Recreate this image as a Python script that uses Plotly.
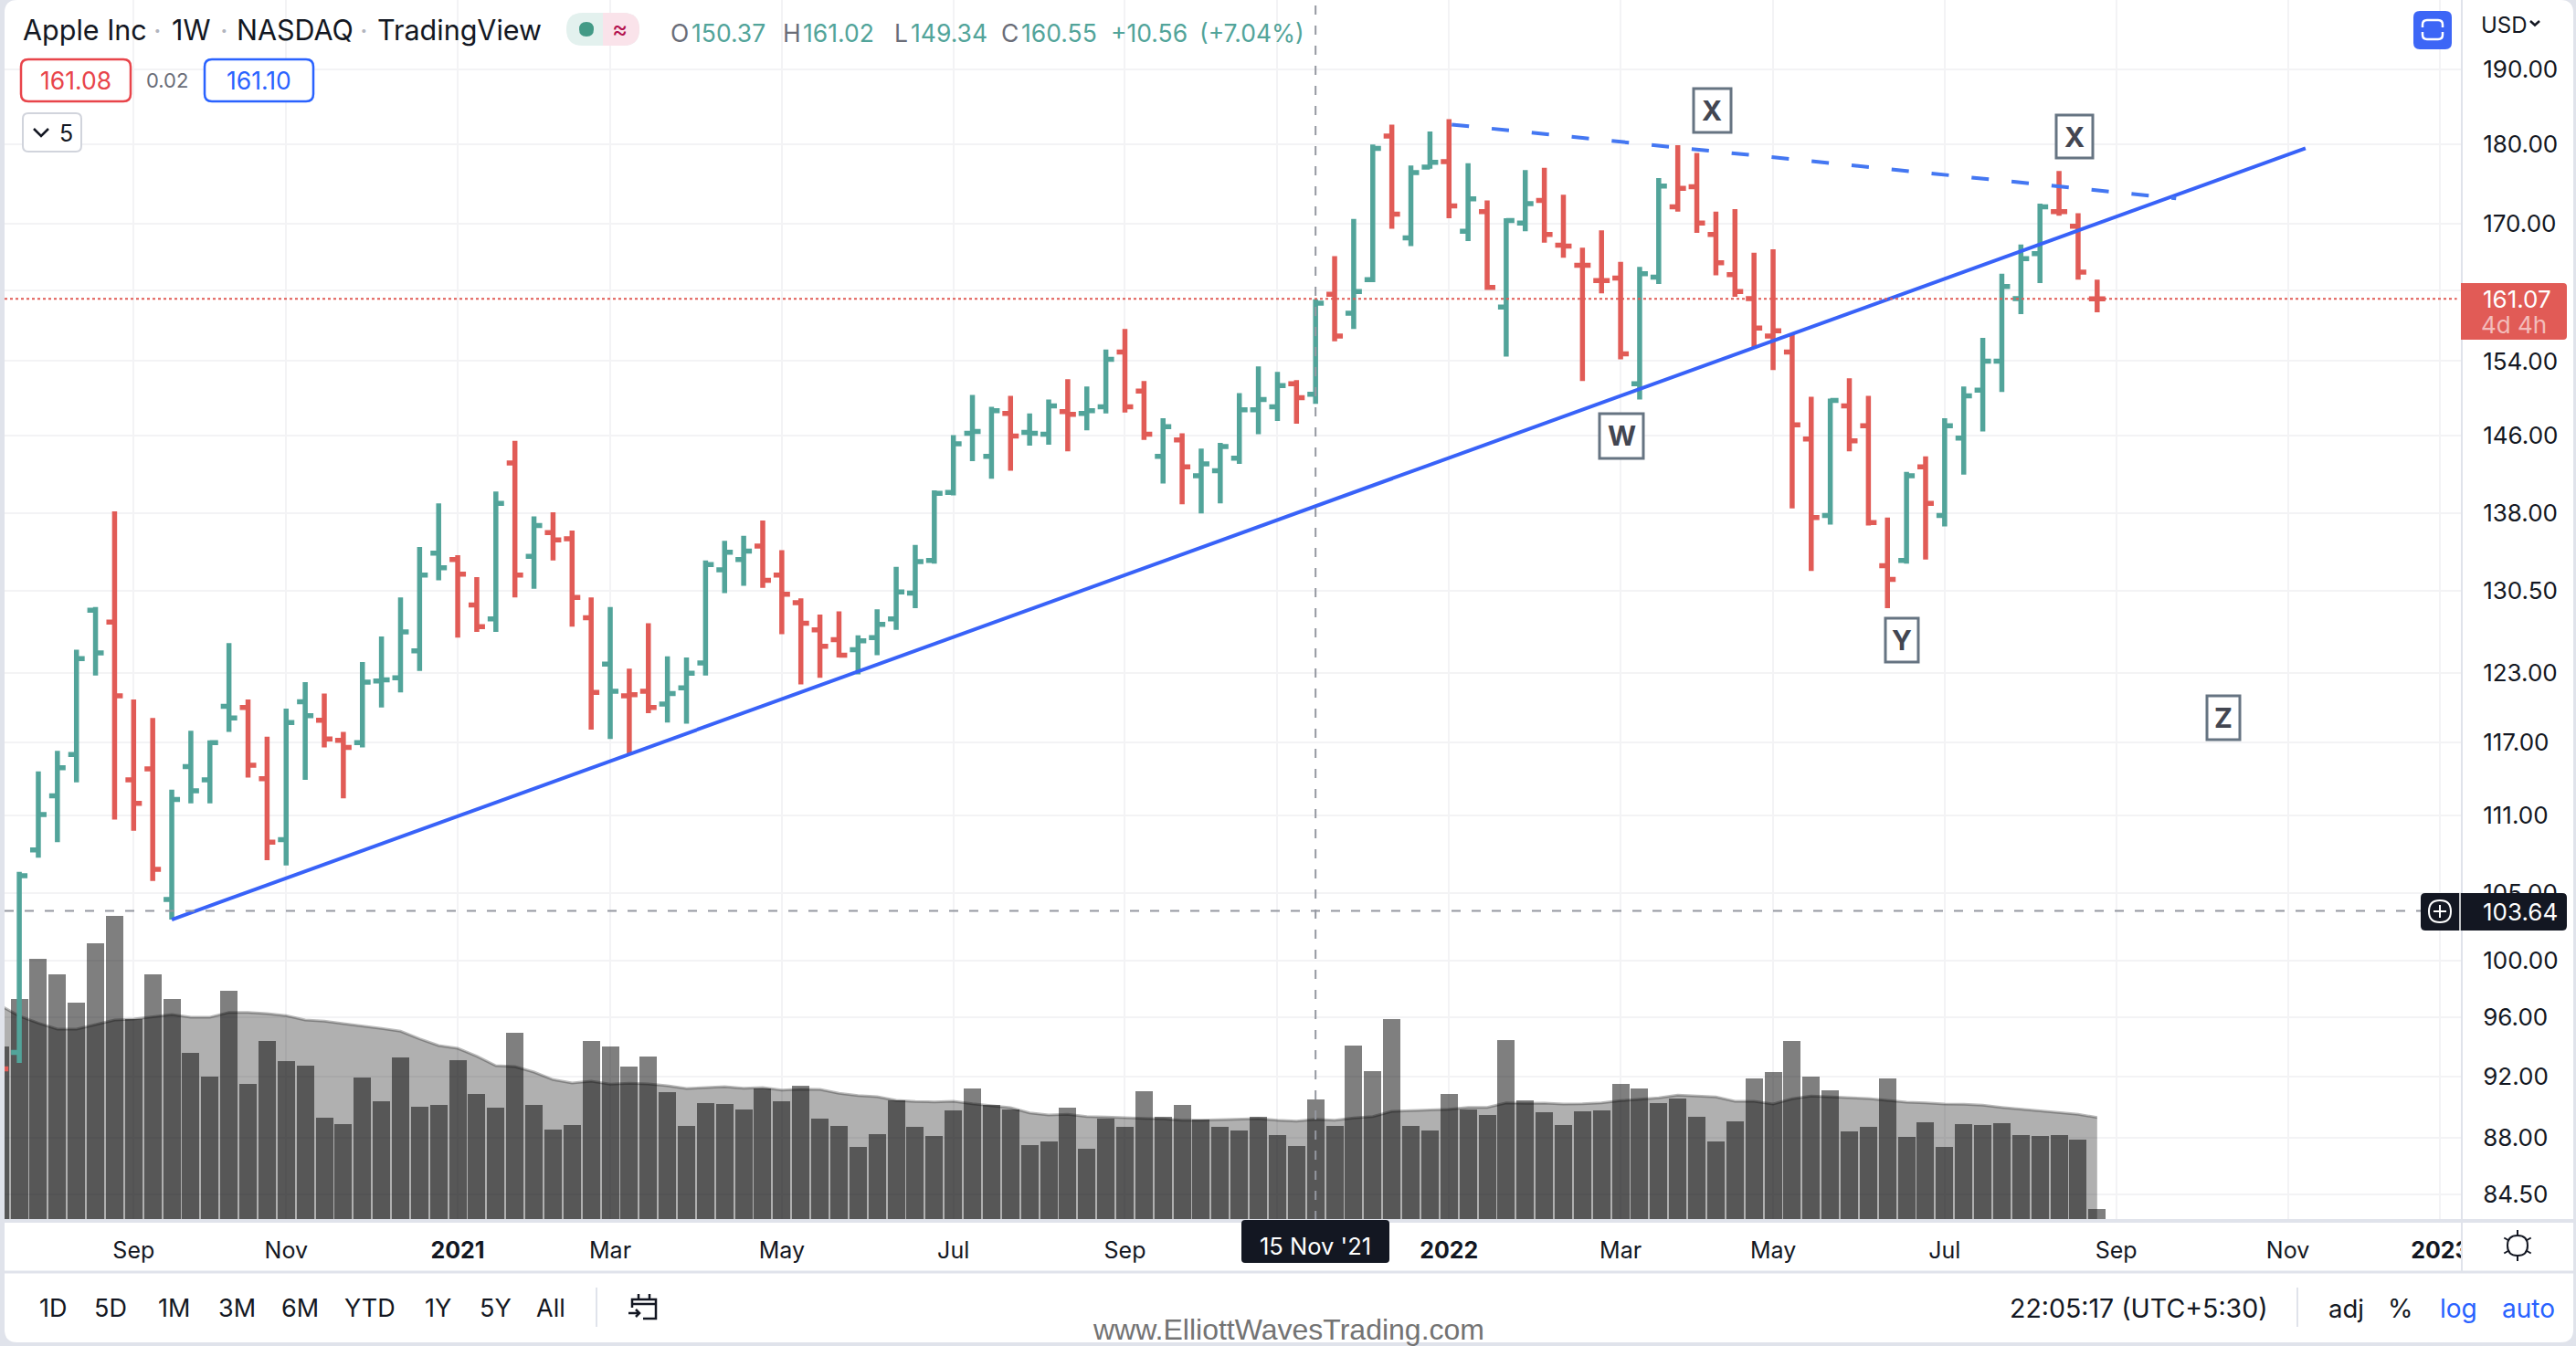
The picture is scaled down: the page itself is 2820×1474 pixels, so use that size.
import pandas as pd
import math
import plotly.graph_objects as go

# ---------- data ----------
dates = pd.date_range("2020-07-20", periods=111, freq="7D")

open_ = [95.5, 93.6, 108.3, 112.6, 116.0, 128.7, 127.6, 113.9, 114.8, 104.5,
         115.0, 113.9, 120.1, 120.0, 114.0, 109.1, 120.5, 118.9, 117.2, 117.0,
         122.3, 122.6, 125.0, 134.1, 133.5, 129.2, 127.9, 143.1, 133.8, 136.1,
         135.5, 128.0, 123.8, 121.0, 121.4, 120.3, 121.7, 123.9, 132.5, 133.5,
         134.8, 132.0, 129.4, 126.9, 126.0, 125.1, 126.2, 127.9, 130.3, 133.4,
         140.1, 146.2, 143.8, 148.3, 146.3, 146.1, 148.5, 148.3, 149.0, 155.0,
         150.7, 143.8, 145.5, 141.8, 142.3, 143.6, 148.7, 149.0, 151.5, 150.37,
         161.6, 159.4, 163.3, 181.1, 168.3, 177.1, 177.8, 169.1, 171.5, 160.1,
         170.1, 172.9, 167.4, 165.0, 163.2, 163.5, 151.5, 163.6, 172.1, 174.6,
         168.7, 163.9, 161.1, 156.8, 155.0, 145.6, 137.8, 149.1, 147.0, 132.9,
         133.4, 142.7, 137.8, 145.7, 150.8, 154.0, 161.1, 166.4, 171.5, 169.7, 161.07]
high = [97.0, 106.6, 114.6, 116.3, 125.1, 129.0, 138.2, 120.7, 119.1, 113.1,
        118.0, 117.2, 125.7, 120.7, 117.5, 119.9, 122.2, 121.2, 117.9, 124.0,
        126.3, 129.9, 134.7, 139.0, 133.9, 131.8, 140.2, 145.4, 137.7, 138.1,
        136.3, 129.9, 129.0, 123.4, 127.5, 124.5, 124.4, 133.4, 135.3, 135.8,
        137.3, 134.4, 129.8, 128.3, 128.6, 126.4, 128.8, 132.8, 134.9, 140.3,
        146.0, 150.3, 149.0, 150.2, 148.3, 149.8, 152.0, 151.2, 155.3, 157.6,
        151.8, 147.8, 146.2, 144.6, 145.2, 150.5, 153.4, 152.8, 151.9, 161.02,
        166.1, 170.6, 180.0, 182.6, 177.3, 181.7, 183.3, 177.6, 172.9, 170.7,
        176.7, 177.0, 173.6, 167.1, 169.2, 165.4, 164.8, 175.7, 179.9, 178.9,
        171.5, 171.8, 166.5, 166.9, 157.0, 150.1, 149.9, 152.1, 150.2, 137.6,
        142.2, 143.8, 147.8, 151.2, 156.6, 164.0, 167.5, 172.5, 176.6, 171.3, 163.3]
low = [92.0, 92.9, 107.7, 108.9, 113.7, 122.8, 110.7, 109.8, 105.9, 103.0,
       112.0, 112.0, 117.9, 114.1, 107.5, 107.1, 113.9, 116.6, 112.4, 116.6,
       120.0, 121.3, 123.2, 131.5, 126.2, 126.7, 126.7, 129.9, 130.7, 133.4,
       127.2, 118.1, 117.3, 116.0, 119.5, 118.7, 118.6, 122.8, 130.3, 131.0,
       130.8, 126.5, 122.0, 122.6, 124.4, 122.9, 124.6, 126.9, 128.9, 133.1,
       139.8, 143.3, 141.5, 142.3, 144.9, 145.0, 144.3, 146.5, 148.3, 148.4,
       145.5, 141.0, 138.9, 138.0, 139.0, 143.0, 146.1, 147.5, 147.2, 149.34,
       156.2, 157.6, 163.0, 169.4, 167.3, 176.9, 170.7, 167.9, 162.1, 154.5,
       169.1, 167.7, 165.9, 151.8, 161.7, 154.2, 149.8, 162.8, 171.5, 168.9,
       163.8, 161.3, 155.4, 153.0, 138.5, 132.4, 136.9, 144.3, 136.8, 128.9,
       133.1, 133.5, 136.7, 141.9, 146.4, 150.6, 159.3, 162.9, 171.0, 163.3, 159.5]
close = [92.5, 106.3, 111.1, 114.9, 124.3, 124.8, 121.0, 112.0, 106.8, 112.3,
         113.0, 117.0, 119.1, 115.1, 108.9, 118.7, 119.3, 117.3, 116.6, 122.2,
         122.4, 126.7, 132.0, 132.7, 132.1, 127.2, 139.0, 132.0, 136.8, 135.4,
         129.9, 121.3, 121.4, 121.1, 120.0, 121.2, 123.0, 133.0, 134.2, 134.3,
         131.5, 130.2, 127.5, 125.4, 124.6, 125.9, 127.4, 130.4, 133.3, 140.0,
         145.1, 146.4, 148.6, 145.9, 146.2, 149.1, 148.2, 148.6, 154.2, 149.0,
         146.1, 146.9, 142.7, 143.0, 144.8, 148.7, 149.8, 151.3, 150.0, 160.55,
         156.8, 161.9, 179.5, 171.2, 176.4, 177.7, 172.2, 173.1, 162.4, 170.4,
         172.5, 168.7, 167.3, 165.0, 163.2, 154.8, 164.0, 174.7, 174.4, 170.1,
         165.3, 161.9, 157.7, 157.4, 147.1, 137.6, 149.7, 145.4, 137.1, 131.6,
         141.8, 139.0, 147.0, 150.2, 154.0, 162.5, 165.8, 172.1, 171.5, 164.2, 161.07]
volume = [570, 726, 858, 807, 714, 909, 999, 660, 807, 726,
          549, 471, 753, 447, 588, 522, 507, 336, 315, 468,
          390, 534, 372, 378, 525, 414, 369, 615, 378, 297,
          312, 588, 570, 504, 537, 420, 309, 384, 381, 363,
          432, 390, 441, 333, 309, 240, 282, 393, 306, 276,
          360, 432, 378, 363, 246, 258, 369, 234, 333, 306,
          423, 339, 378, 330, 306, 294, 339, 279, 243, 396,
          309, 573, 489, 660, 309, 294, 414, 363, 345, 591,
          393, 354, 312, 357, 360, 447, 432, 384, 399, 339,
          258, 324, 465, 486, 588, 471, 426, 291, 306, 465,
          273, 321, 240, 315, 312, 318, 279, 276, 279, 264, 36]
volume_ma = [705, 670, 647, 627, 627, 643, 657, 660, 668, 675,
             666, 666, 682, 682, 678, 671, 657, 653, 645, 638,
             629, 620, 595, 573, 564, 538, 507, 504, 486, 461,
             450, 456, 446, 449, 447, 441, 432, 435, 438, 433,
             435, 427, 430, 429, 416, 409, 405, 393, 389, 388,
             390, 382, 375, 369, 352, 345, 347, 340, 338, 335,
             334, 332, 328, 328, 329, 331, 333, 328, 325, 331,
             328, 335, 340, 357, 360, 361, 364, 370, 370, 385,
             383, 384, 381, 382, 385, 392, 397, 401, 410, 408,
             404, 390, 390, 381, 398, 407, 405, 401, 399, 393,
             387, 385, 381, 380, 377, 370, 364, 357, 352, 347, 337]

price_ticks = [190, 180, 170, 162, 154, 146, 138, 130.5, 123, 117, 111, 105, 100, 96, 92, 88, 84.5]
hidden_price_ticks = [162]
date_ticks = ["2020-09-07", "2020-11-02", "2021-01-04", "2021-03-01", "2021-05-03", "2021-07-05",
              "2021-09-06", "2021-11-01", "2022-01-03", "2022-03-07", "2022-05-02", "2022-07-04",
              "2022-09-05", "2022-11-07", "2023-01-02"]
date_labels = ["Sep", "Nov", "<b>2021</b>", "Mar", "May", "Jul", "Sep", "", "<b>2022</b>",
               "Mar", "May", "Jul", "Sep", "Nov", "<b>2023</b>"]

trend_dates = ["2020-09-21", "2022-11-13 12:00"]
trend_prices = [103.0, 179.5]
resist_dates = ["2022-01-04", "2022-09-27"]
resist_prices = [182.6, 173.15]
last_price = 161.07
cross_price = 103.64
cross_date = "2021-11-15"

# ---------- colours ----------
GREEN, RED, BLUE = "#52a49a", "#e15b56", "#3862f8"
INK, MUTED, GRID, EDGE = "#131722", "#6a6d78", "#f3f3f5", "#e0e3eb"
FONT = "Inter"

# ---------- layout geometry (screen helpers for chrome only) ----------
W, H = 2820, 1474
L, R, T, B = 5, 2695, 0, 1336
def px(x): return (x - L) / (R - L)
def py(y): return 1 - (y - T) / (B - T)
def path(cmds):
    out = []
    for c in cmds:
        if c[0] == "Z":
            out.append("Z")
        else:
            pts = c[1:]
            xy = [f"{px(pts[i]):.6f},{py(pts[i+1]):.6f}" for i in range(0, len(pts), 2)]
            out.append(c[0] + " " + " ".join(xy))
    return " ".join(out)
def rr_cmds(x0, y0, x1, y1, r):
    return [("M", x0 + r, y0), ("L", x1 - r, y0), ("Q", x1, y0, x1, y0 + r), ("L", x1, y1 - r),
            ("Q", x1, y1, x1 - r, y1), ("L", x0 + r, y1), ("Q", x0, y1, x0, y1 - r),
            ("L", x0, y0 + r), ("Q", x0, y0, x0 + r, y0), ("Z",)]

shapes, annos = [], []
def add_path(cmds, color=None, lw=0, fill=None, layer="above"):
    shapes.append(dict(type="path", xref="paper", yref="paper", path=path(cmds), layer=layer,
                       line=dict(color=color or "rgba(0,0,0,0)", width=lw),
                       fillcolor=fill or "rgba(0,0,0,0)"))
def rect(x0, y0, x1, y1, r=0, color=None, lw=0, fill=None, layer="above"):
    add_path(rr_cmds(x0, y0, x1, y1, r) if r else
             [("M", x0, y0), ("L", x1, y0), ("L", x1, y1), ("L", x0, y1), ("Z",)], color, lw, fill, layer)
def line(pts, color, lw):
    add_path([("M", *pts[0])] + [("L", *p) for p in pts[1:]], color, lw)
def text(x, y, s, size=24, color=INK, anchor="left", family=FONT):
    annos.append(dict(xref="paper", yref="paper", x=px(x), y=py(y), text=s, showarrow=False,
                      xanchor=anchor, yanchor="middle", borderpad=0,
                      font=dict(family=family, size=size, color=color)))

# ---------- traces ----------
up = [False] + [close[i] >= close[i - 1] for i in range(1, len(close))]
fig = go.Figure()
fig.add_trace(go.Scatter(x=dates, y=volume_ma, yaxis="y", mode="lines", fill="tozeroy",
                         fillcolor="rgba(0,0,0,0.31)", line=dict(color="rgba(0,0,0,0.27)", width=3),
                         hoverinfo="skip", showlegend=False))
fig.add_trace(go.Bar(x=dates, y=volume, yaxis="y", width=6.37 * 86400000,
                     marker=dict(color="rgba(0,0,0,0.5)", line=dict(width=0)),
                     hoverinfo="skip", showlegend=False))
for flag, col in ((True, GREEN), (False, RED)):
    idx = [i for i, u in enumerate(up) if u == flag]
    fig.add_trace(go.Ohlc(x=[dates[i] for i in idx], open=[open_[i] for i in idx],
                          high=[high[i] for i in idx], low=[low[i] for i in idx],
                          close=[close[i] for i in idx], yaxis="y2", tickwidth=0.43,
                          increasing=dict(line=dict(color=col, width=5.5)),
                          decreasing=dict(line=dict(color=col, width=5.5)),
                          hoverinfo="skip", showlegend=False))
fig.add_trace(go.Scatter(x=trend_dates, y=trend_prices, yaxis="y2", mode="lines",
                         line=dict(color=BLUE, width=4), hoverinfo="skip", showlegend=False))
fig.add_trace(go.Scatter(x=resist_dates, y=resist_prices, yaxis="y2", mode="lines",
                         line=dict(color="#4477f2", width=4, dash="19px,25px"),
                         hoverinfo="skip", showlegend=False))

# ---------- page chrome ----------
rect(5, 0, 2817, 1470, 14, fill="#ffffff", layer="below")

# last price + crosshair (log axis: shape positions are given as prices)
shapes.append(dict(type="line", xref="paper", yref="y2", x0=0, x1=0.998, y0=last_price, y1=last_price,
                   line=dict(color=RED, width=2, dash="3px,3px"), layer="above"))
shapes.append(dict(type="line", xref="paper", yref="y2", x0=0, x1=1, y0=cross_price, y1=cross_price,
                   line=dict(color="#9598a1", width=2, dash="10px,12px"), layer="above"))
shapes.append(dict(type="line", xref="x", yref="paper", x0=cross_date, x1=cross_date, y0=0, y1=1,
                   line=dict(color="#9598a1", width=2, dash="10px,12px"), layer="above"))

# axis frames
rect(2696, 1338, 2817, 1392, fill="#ffffff")
line([(5, 1337), (2817, 1337)], EDGE, 4)
line([(5, 1393), (2817, 1393)], EDGE, 3)
line([(2695, 0), (2695, 1393)], EDGE, 2)

# header
text(24, 33, "Apple Inc", 30.5)
text(187, 33, "1W", 30.5)
text(258, 33, "NASDAQ", 30.5)
text(412, 33, "TradingView", 30.5)
for cx in (172, 245, 398):
    text(cx, 33, "·", 30, "#b2b5be", "center")
rect(620, 14, 700, 50, 18, fill="#e3f1ee")
add_path([("M", 660, 14), ("L", 682, 14), ("Q", 700, 14, 700, 32), ("Q", 700, 50, 682, 50), ("L", 660, 50), ("Z",)], fill="#fae3ea")
add_path([("M", 642, 24), ("Q", 650, 24, 650, 32), ("Q", 650, 40, 642, 40), ("Q", 634, 40, 634, 32), ("Q", 634, 24, 642, 24), ("Z",)], fill="#439a86")
text(678, 32, "≈", 26, "#b3124f", "center")

for xx, s, col in ((733, "O", MUTED), (756, "150.37", GREEN), (856, "H", MUTED), (878, "161.02", GREEN),
                   (978, "L", MUTED), (996, "149.34", GREEN), (1095, "C", MUTED), (1117, "160.55", GREEN),
                   (1215, "+10.56", GREEN), (1312, "(+7.04%)", GREEN)):
    text(xx, 36, s, 26.5, col)

rect(23, 65, 143, 111, 8, "#e8444a", 2.5, "#ffffff")
text(83, 88, "161.08", 26.5, "#e8444a", "center")
text(183, 88, "0.02", 22, MUTED, "center")
rect(224, 65, 343, 111, 8, "#2962ff", 2.5, "#ffffff")
text(283.5, 88, "161.10", 26.5, "#2962ff", "center")
rect(25, 124, 89, 166, 6, "#d1d4dc", 2, "#ffffff")
line([(37, 141), (45, 149), (53, 141)], INK, 2.5)
text(72, 146, "5", 25, INK, "center")

# corner widgets
rect(2642, 12, 2684, 54, 7, fill="#3d66f6")
add_path([("M", 2652, 30), ("L", 2652, 27), ("Q", 2652, 22, 2657, 22), ("L", 2669, 22), ("Q", 2674, 22, 2674, 27), ("L", 2674, 30)], "#ffffff", 2.5)
add_path([("M", 2652, 35), ("L", 2652, 38), ("Q", 2652, 43, 2657, 43), ("L", 2669, 43), ("Q", 2674, 43, 2674, 38), ("L", 2674, 35)], "#ffffff", 2.5)
text(2715, 27, "USD", 24)
line([(2770, 23), (2775, 27.5), (2780, 23)], INK, 2.5)

# price labels
add_path([("M", 2694, 310), ("L", 2806, 310), ("Q", 2810, 310, 2810, 314), ("L", 2810, 368), ("Q", 2810, 372, 2806, 372), ("L", 2694, 372), ("Z",)], fill=RED)
text(2717, 327, "161.07", 26, "#ffffff")
text(2715, 355, "4d 4h", 26, "#f3bdbb")
rect(2650, 978, 2810, 1019, 5, fill=INK)
line([(2693, 978), (2693, 1019)], "#ffffff", 1.5)
add_path([("M", 2671, 986), ("Q", 2683, 986, 2683, 998), ("Q", 2683, 1010, 2671, 1010), ("Q", 2659, 1010, 2659, 998), ("Q", 2659, 986, 2671, 986), ("Z",)], "#ffffff", 2)
line([(2671, 991), (2671, 1005)], "#ffffff", 2)
line([(2664, 998), (2678, 998)], "#ffffff", 2)
text(2717, 998, "103.64", 26, "#ffffff")
rect(1359, 1336, 1521, 1383, 4, fill=INK)
text(1440, 1364, "15 Nov '21", 25.5, "#ffffff", "center")

# wave labels
for x0, y0, x1, y1, s in ((1854, 97, 1895, 145, "X"), (2251, 126, 2291, 173, "X"), (1751, 453, 1799, 502, "W"),
                          (2064, 677, 2100, 725, "Y"), (2416, 762, 2452, 810, "Z")):
    rect(x0, y0, x1, y1, 0, "#667482", 3, "#ffffff")
    text((x0 + x1) / 2, (y0 + y1) / 2, f"<b>{s}</b>", 30, "#434651", "center")

# gear
gc = (2756, 1364)
add_path([("M", gc[0], gc[1] - 11), ("Q", gc[0] + 11, gc[1] - 11, gc[0] + 11, gc[1]), ("Q", gc[0] + 11, gc[1] + 11, gc[0], gc[1] + 11),
          ("Q", gc[0] - 11, gc[1] + 11, gc[0] - 11, gc[1]), ("Q", gc[0] - 11, gc[1] - 11, gc[0], gc[1] - 11), ("Z",)], INK, 2)
for a in range(0, 360, 60):
    r0, r1 = 11, 17
    ca, sa = math.cos(math.radians(a + 90)), math.sin(math.radians(a + 90))
    line([(gc[0] + r0 * ca, gc[1] + r0 * sa), (gc[0] + r1 * ca, gc[1] + r1 * sa)], INK, 2)

# bottom toolbar
for cx, s in ((57.5, "1D"), (121, "5D"), (190, "1M"), (259, "3M"), (328, "6M"), (405, "YTD"), (479, "1Y"), (542, "5Y"), (603, "All")):
    text(cx, 1433, s, 27, INK, "center")
line([(653, 1410), (653, 1453)], EDGE, 2)
line([(692, 1432), (692, 1423), (718, 1423), (718, 1444), (704, 1444)], INK, 2.5)
line([(692, 1428), (718, 1428)], INK, 2.5)
line([(699, 1417), (699, 1423)], INK, 2.5)
line([(711, 1417), (711, 1423)], INK, 2.5)
line([(688, 1438), (700, 1438)], INK, 2.5)
line([(696, 1434), (700, 1438), (696, 1442)], INK, 2.5)
text(1410, 1456, "www.ElliottWavesTrading.com", 32, "#737373", "center", "Liberation Sans")
text(2341, 1433, "22:05:17 (UTC+5:30)", 28.5, INK, "center")
line([(2515, 1410), (2515, 1453)], EDGE, 2)
text(2568, 1433, "adj", 27.5, INK, "center")
text(2628, 1433, "%", 28, INK, "center")
text(2691, 1433, "log", 28, "#2962ff", "center")
text(2768, 1433, "auto", 28, "#2962ff", "center")

fig.update_layout(
    width=W, height=H, autosize=False,
    margin=dict(l=L, r=W - R, t=T, b=H - B, pad=0),
    paper_bgcolor=EDGE, plot_bgcolor="rgba(0,0,0,0)",
    barmode="overlay", bargap=0, hovermode=False, showlegend=False,
    font=dict(family=FONT, size=24, color=INK),
    shapes=shapes, annotations=annos,
    xaxis=dict(type="date", range=["2020-07-21 14:24", "2023-01-09 21:36"],
               tickmode="array", tickvals=date_ticks, ticktext=date_labels, tickangle=0,
               showgrid=True, gridcolor=GRID, gridwidth=2, zeroline=False, showline=False,
               ticks="outside", ticklen=11, tickcolor="rgba(0,0,0,0)",
               tickfont=dict(family=FONT, size=25, color=INK), rangeslider=dict(visible=False)),
    yaxis=dict(range=[0, 4008], visible=False, showgrid=False, zeroline=False, fixedrange=True),
    yaxis2=dict(type="log", overlaying="y", side="right", anchor="x",
                range=[math.log10(82.96), math.log10(199.74)],
                tickmode="array", tickvals=price_ticks,
                ticktext=["" if p in hidden_price_ticks else f"{p:.2f}" for p in price_ticks],
                showgrid=True, gridcolor=GRID, gridwidth=2, zeroline=False, showline=False,
                ticks="outside", ticklen=17, tickcolor="rgba(0,0,0,0)",
                tickfont=dict(family=FONT, size=26, color=INK)),
)

fig.write_html("out.html", config={"displayModeBar": False},
               post_script="document.body.style.margin='0';document.body.style.overflow='hidden';")
